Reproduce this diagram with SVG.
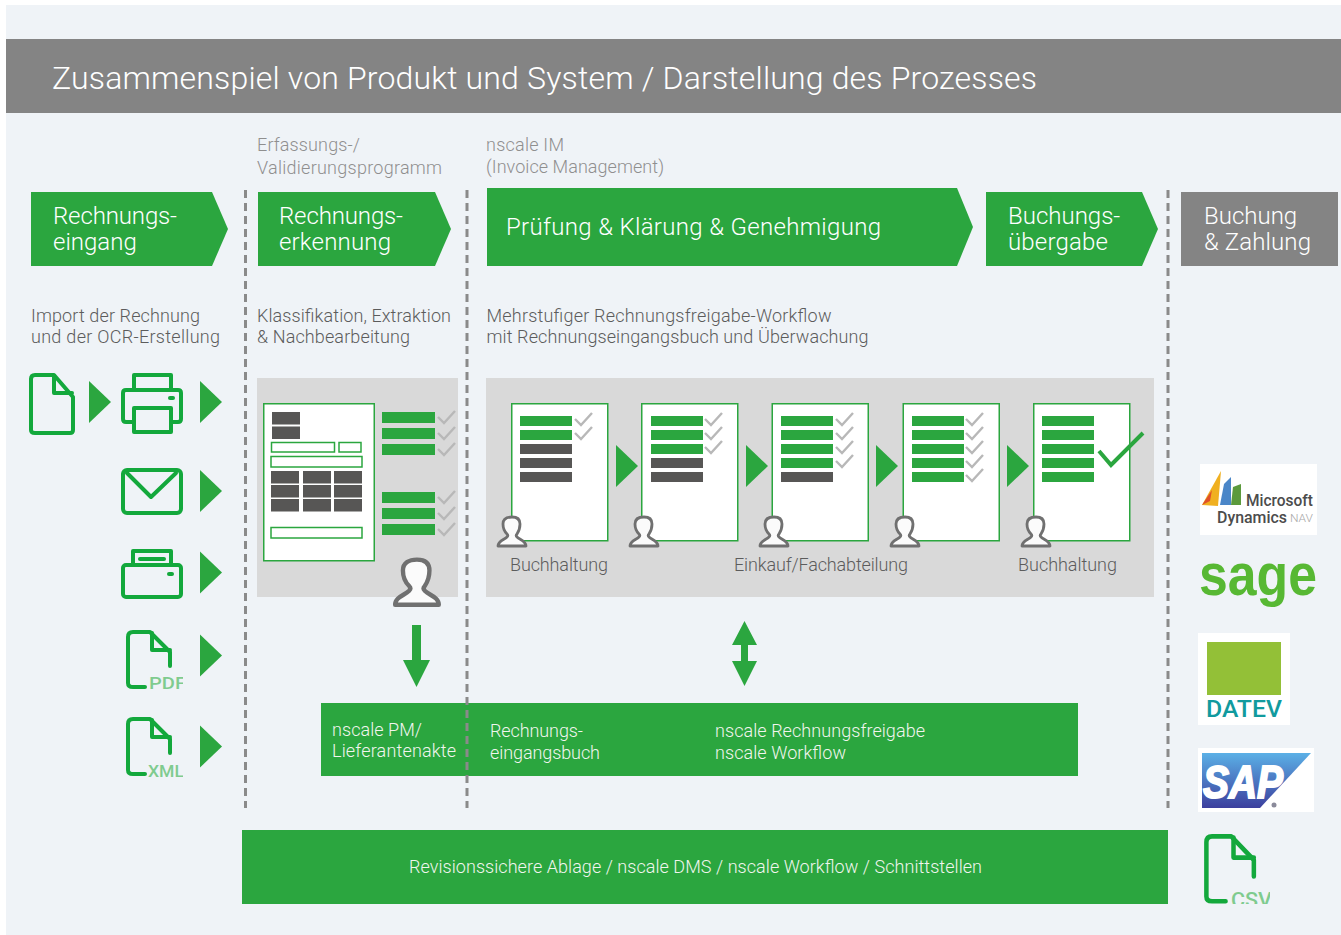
<svg xmlns="http://www.w3.org/2000/svg" width="1341" height="935" viewBox="0 0 1341 935">
<style>
text{font-family:Roboto,"Liberation Sans",sans-serif;font-weight:300}
.h{fill:#fff;font-size:24px}
.s{fill:#f1f5ee;font-size:18px}
.l{fill:#5c5c5c;font-size:18px}
.c{fill:#8f8f8f;font-size:18px}
.g{fill:#2ba63f}
.d{fill:#575655}
.o{fill:#fff;stroke:#2ba63f;stroke-width:1.5}
.i{fill:none;stroke:#13a83c;stroke-width:4;stroke-linejoin:round;stroke-linecap:round}
.dash{fill:none;stroke:#8a8a8a;stroke-width:3;stroke-dasharray:8 5}
.f{fill:#7fcb8f;font-weight:500}
</style>
<defs>
<path id="ar" class="g" d="M0 0L22 21L0 42Z"/>
<path id="ck" d="M0 7L6 13L17 1" fill="none" stroke="#b8b8b8" stroke-width="2.4"/>
<g id="pn"><path d="M2 30C2 25 8 24 11 21C12 20 12 19 11 18C8 15 7 11 7 8C7 3 11 1 16 1C21 1 24 3 24 8C24 11 23 15 21 18C20 19 20 20 21 21C24 24 30 25 30 30Z" fill="#fbfbfb" stroke="#707070" stroke-width="2.8" stroke-linejoin="round"/></g>
<g id="fl"><path class="i" d="M45 36V22L25 2H8Q3 2 3 7V53Q3 57 8 57H20"/><path class="i" d="M27 3V20H45"/></g>
<clipPath id="cp"><rect x="120" y="625" width="63" height="70"/></clipPath>
<clipPath id="cx"><rect x="120" y="712" width="63" height="70"/></clipPath>
<clipPath id="cs"><rect x="1200" y="830" width="70" height="74"/></clipPath>
<linearGradient id="sp" x1="0" y1="0" x2="0" y2="1"><stop offset="0" stop-color="#5bb0e6"/><stop offset="1" stop-color="#3c3f9e"/></linearGradient>
</defs>
<rect width="1341" height="935" fill="#fff"/>
<rect x="6" y="5" width="1335" height="930" fill="#eff3f7"/>
<g id="title"><rect x="6" y="39" width="1335" height="74" fill="#848484"/>
<text x="52" y="89" fill="#fff" style="font-size:32px" textLength="985">Zusammenspiel von Produkt und System / Darstellung des Prozesses</text></g>

<g id="captions">
<text class="c" x="257" y="151" textLength="103">Erfassungs-/</text><text class="c" x="257" y="174" textLength="185">Validierungsprogramm</text>
<text class="c" x="486" y="151" textLength="78">nscale IM</text><text class="c" x="486" y="173" textLength="178">(Invoice Management)</text>
</g>

<g id="step-rechnungseingang"><path class="g" d="M31 192H212L228 229L212 266H31Z"/><text class="h" x="53" y="224" textLength="124">Rechnungs-</text><text class="h" x="53" y="250">eingang</text></g>
<g id="step-rechnungserkennung"><path class="g" d="M258 192H435L451 229L435 266H258Z"/><text class="h" x="279" y="224" textLength="124">Rechnungs-</text><text class="h" x="279" y="250" textLength="112">erkennung</text></g>
<g id="step-pruefung"><path class="g" d="M487 188H957L973 227L957 266H487Z"/><text class="h" x="506" y="235" textLength="375">Prüfung &amp; Klärung &amp; Genehmigung</text></g>
<g id="step-buchungsuebergabe"><path class="g" d="M986 192H1142L1158 229L1142 266H986Z"/><text class="h" x="1008" y="224">Buchungs-</text><text class="h" x="1008" y="250" textLength="100">übergabe</text></g>
<g id="step-buchung"><rect x="1181" y="192" width="157" height="74" fill="#848484"/><text class="h" x="1204" y="224">Buchung</text><text class="h" x="1204" y="250" textLength="107">&amp; Zahlung</text></g>

<g id="descriptions">
<text class="l" x="31" y="322" textLength="169">Import der Rechnung</text><text class="l" x="31" y="343" textLength="189">und der OCR-Erstellung</text>
<text class="l" x="257" y="322" textLength="194">Klassifikation, Extraktion</text><text class="l" x="257" y="343" textLength="153">&amp; Nachbearbeitung</text>
<text class="l" x="486.5" y="322" textLength="345">Mehrstufiger Rechnungsfreigabe-Workflow</text><text class="l" x="486.5" y="343" textLength="382">mit Rechnungseingangsbuch und Überwachung</text>
</g>

<g id="input-icons">
<path class="i" d="M73 397V430Q73 433 70 433H35Q31 433 31 430V379Q31 375 35 375H54Z"/><path class="i" d="M54 376V393H72"/>
<use href="#ar" x="89" y="381"/>
<g class="i"><path d="M134 390V375H171V390"/><path d="M133 422H126Q123 422 123 419V393Q123 390 126 390H178Q181 390 181 393V419Q181 422 178 422H172"/><path d="M134 432V408H171V432Z"/><path d="M170 398H173"/></g>
<use href="#ar" x="200" y="381"/>
<g class="i"><rect x="123" y="470" width="58" height="43" rx="4"/><path d="M127 473L151 497L176 473"/></g>
<use href="#ar" x="200" y="470"/>
<g class="i"><rect x="123" y="565" width="58" height="32" rx="3"/><path d="M133 564V551H171V564"/><path d="M140 559H164"/><path d="M169 574H172"/></g>
<use href="#ar" x="200" y="551.5"/>
<g clip-path="url(#cp)"><use href="#fl" x="125" y="630"/><text class="f" x="149" y="689" style="font-size:17px" textLength="37" lengthAdjust="spacingAndGlyphs">PDF</text></g>
<use href="#ar" x="200" y="634.5"/>
<g clip-path="url(#cx)"><use href="#fl" x="125" y="717"/><text class="f" x="148" y="777" style="font-size:17px" textLength="36" lengthAdjust="spacingAndGlyphs">XML</text></g>
<use href="#ar" x="200" y="725.5"/>
</g>

<g id="panel-erkennung">
<rect x="257" y="378" width="201" height="219" fill="#d9d9d9"/>
<rect class="o" x="263.75" y="403.75" width="110.5" height="157"/>
<rect class="d" x="272" y="412" width="28" height="12.5"/><rect class="d" x="272" y="426.5" width="28" height="12.5"/>
<rect class="o" x="271.5" y="442.5" width="63" height="9.5"/><rect class="o" x="339" y="442.5" width="22" height="9.5"/>
<rect class="o" x="271" y="456.5" width="91" height="10.5"/>
<path class="d" d="M271 471h28v12.5h-28zM303 471h28v12.5h-28zM334 471h28v12.5h-28zM271 485h28v12.5h-28zM303 485h28v12.5h-28zM334 485h28v12.5h-28zM271 499h28v12.5h-28zM303 499h28v12.5h-28zM334 499h28v12.5h-28z"/>
<rect class="o" x="271" y="527.5" width="91" height="10.5"/>
<path class="g" d="M382 412h53v11h-53zM382 428h53v11h-53zM382 444h53v11h-53zM382 492h53v11h-53zM382 508h53v11h-53zM382 524h53v11h-53z"/>
<use href="#ck" x="438" y="410"/><use href="#ck" x="438" y="426"/><use href="#ck" x="438" y="442"/><use href="#ck" x="438" y="490"/><use href="#ck" x="438" y="506"/><use href="#ck" x="438" y="522"/>
<use href="#pn" transform="translate(392,558) scale(1.56)"/>
</g>

<g id="panel-workflow">
<rect x="486" y="378" width="668" height="219" fill="#d9d9d9"/>
<rect class="o" x="511.75" y="403.75" width="96" height="137"/><rect class="o" x="641.75" y="403.75" width="96" height="137"/><rect class="o" x="772.25" y="403.75" width="96" height="137"/><rect class="o" x="903.25" y="403.75" width="96" height="137"/><rect class="o" x="1033.75" y="403.75" width="96" height="137"/>
<path class="g" d="M520 416h52v10h-52zM520 430h52v10h-52zM651 416h52v10h-52zM651 430h52v10h-52zM651 444h52v10h-52zM781 416h52v10h-52zM781 430h52v10h-52zM781 444h52v10h-52zM781 458h52v10h-52zM912 416h52v10h-52zM912 430h52v10h-52zM912 444h52v10h-52zM912 458h52v10h-52zM912 472h52v10h-52zM1042 416h52v10h-52zM1042 430h52v10h-52zM1042 444h52v10h-52zM1042 458h52v10h-52zM1042 472h52v10h-52z"/>
<path class="d" d="M520 444h52v10h-52zM520 458h52v10h-52zM520 472h52v10h-52zM651 458h52v10h-52zM651 472h52v10h-52zM781 472h52v10h-52z"/>
<use href="#ck" x="575" y="412"/><use href="#ck" x="575" y="426"/>
<use href="#ck" x="705" y="412"/><use href="#ck" x="705" y="426"/><use href="#ck" x="705" y="440"/>
<use href="#ck" x="836" y="412"/><use href="#ck" x="836" y="426"/><use href="#ck" x="836" y="440"/><use href="#ck" x="836" y="454"/>
<use href="#ck" x="966" y="412"/><use href="#ck" x="966" y="426"/><use href="#ck" x="966" y="440"/><use href="#ck" x="966" y="454"/><use href="#ck" x="966" y="468"/>
<path d="M1099 451L1111 465L1143 433" fill="none" stroke="#2ba63f" stroke-width="4"/>
<use href="#ar" x="616" y="445"/><use href="#ar" x="746" y="445"/><use href="#ar" x="876" y="445"/><use href="#ar" x="1007" y="445"/>
<use href="#pn" x="496" y="516"/><use href="#pn" x="628" y="516"/><use href="#pn" x="758" y="516"/><use href="#pn" x="889" y="516"/><use href="#pn" x="1020" y="516"/>
<text class="l" x="510" y="571" textLength="98">Buchhaltung</text><text class="l" x="734" y="571" textLength="174">Einkauf/Fachabteilung</text><text class="l" x="1018" y="571" textLength="99">Buchhaltung</text>
</g>

<g id="connectors">
<path class="g" d="M412 625H421V660H430L416.5 687L403 660H412Z"/>
<path class="g" d="M744.5 621L757 645H748V661H757L744.5 686L732 661H741V645H732Z"/>
</g>

<g id="bar-module"><rect x="321" y="703" width="757" height="73" fill="#2ba63f"/>
<text class="s" x="332" y="736" textLength="90">nscale PM/</text><text class="s" x="332" y="757" textLength="124">Lieferantenakte</text>
<text class="s" x="490" y="737" textLength="93">Rechnungs-</text><text class="s" x="490" y="759" textLength="110">eingangsbuch</text>
<text class="s" x="715" y="737" textLength="210">nscale Rechnungsfreigabe</text><text class="s" x="715" y="759" textLength="131">nscale Workflow</text></g>
<g id="bar-ablage"><rect x="242" y="830" width="926" height="74" fill="#2ba63f"/>
<text class="s" x="409" y="873" textLength="573">Revisionssichere Ablage / nscale DMS / nscale Workflow / Schnittstellen</text></g>

<g id="separators"><path class="dash" d="M245.5 190V808"/><path class="dash" d="M467 190V808"/><path class="dash" d="M1168 190V808"/></g>

<g id="logo-dynamics"><rect x="1200" y="464" width="117" height="71" fill="#fff"/>
<path d="M1202 505L1221 471L1218 506Z" fill="#f0b020"/><path d="M1202 505L1212 490L1210 501Z" fill="#e0502a"/><path d="M1220 505L1224 484L1231 477V505Z" fill="#4a86c8"/><path d="M1231 505L1233 487L1241 484V505Z" fill="#5c9a3c"/>
<text x="1246" y="506" fill="#4c4c4c" style="font-size:17px;font-weight:500" textLength="67" lengthAdjust="spacingAndGlyphs">Microsoft</text>
<text x="1217" y="523" fill="#4c4c4c" style="font-size:17px;font-weight:500" textLength="70" lengthAdjust="spacingAndGlyphs">Dynamics</text>
<text x="1290" y="522" fill="#a8a8a8" style="font-size:10px" textLength="23" lengthAdjust="spacingAndGlyphs">NAV</text></g>
<g id="logo-sage"><text x="1199" y="595" fill="#57b833" style="font-size:60px;font-weight:700;font-family:'Liberation Sans',sans-serif" textLength="118" lengthAdjust="spacingAndGlyphs">sage</text></g>
<g id="logo-datev"><rect x="1198" y="633" width="92" height="92" fill="#fff"/><rect x="1207" y="642" width="74" height="53" fill="#93c037"/>
<text x="1206" y="717" fill="#119a9e" style="font-size:24px;font-weight:500" textLength="76" lengthAdjust="spacingAndGlyphs">DATEV</text></g>
<g id="logo-sap"><rect x="1198" y="748" width="116" height="64" fill="#fff"/><path d="M1202 753H1311L1260 808H1202Z" fill="url(#sp)"/>
<text x="1203" y="798" fill="#fff" stroke="#fff" stroke-width="2" style="font-size:46px;font-weight:700;font-family:'Liberation Sans',sans-serif;font-style:italic" textLength="80" lengthAdjust="spacingAndGlyphs">SAP</text>
<circle cx="1274" cy="805" r="2.5" fill="#8a8a9a"/></g>
<g id="logo-csv" clip-path="url(#cs)"><use href="#fl" transform="translate(1203,834) scale(1.13,1.18)"/><text class="f" x="1231" y="907" style="font-size:21px" textLength="41" lengthAdjust="spacingAndGlyphs">CSV</text></g>
</svg>
